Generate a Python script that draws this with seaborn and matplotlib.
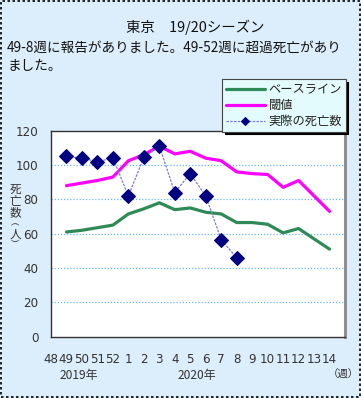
import matplotlib
matplotlib.use("Agg")
import matplotlib.pyplot as plt
import seaborn as sns
import pandas as pd
import numpy as np
from matplotlib.patches import Rectangle

# ---- data ----
week_labels = ["48", "49", "50", "51", "52", "1", "2", "3", "4", "5", "6", "7",
               "8", "9", "10", "11", "12", "13", "14"]
weeks = ["49", "50", "51", "52", "1", "2", "3", "4", "5", "6", "7", "8", "9",
         "10", "11", "12", "13", "14"]
baseline = [61, 62, 63.5, 65, 71.5, 74.5, 78, 74, 75, 72.5, 71.5, 66.5, 66.5,
            65.5, 60.5, 63, 57, 51]
threshold = [88, 89.5, 91, 93, 102.5, 106, 111, 106.5, 108, 104, 102.5, 96, 95,
             94.5, 87, 91, 82, 73]
actual = [105, 104, 102, 104, 82, 104.5, 111, 84, 95, 82, 56.5, 46]
series_names = ["ベースライン", "閾値", "実際の死亡数"]
yticks = [0, 20, 40, 60, 80, 100, 120]

JP = ["Noto Sans CJK JP", "DejaVu Sans"]

sns.set_theme(style="white")
plt.rcParams["font.family"] = JP

W, H = 361, 398
fig = plt.figure(figsize=(W / 100, H / 100), dpi=100)
bg = "#dcedfc"
fig.patch.set_facecolor(bg)

def fx(px):
    return px / W

def fy(py):
    return 1 - py / H

# dotted border
fig.add_artist(Rectangle((0.002, 0.002), 0.996, 0.996, transform=fig.transFigure,
                         fill=False, edgecolor="black", linestyle=(0, (1.5, 1.5)),
                         linewidth=1.2))

ax = fig.add_axes([fx(51), fy(336.7), fx(345) - fx(51), fy(130.7) - fy(336.7)])
ax.set_facecolor("white")

xpos = np.arange(len(weeks))
df_base = pd.DataFrame({"x": xpos, "y": baseline})
df_thr = pd.DataFrame({"x": xpos, "y": threshold})
df_act = pd.DataFrame({"x": xpos[:len(actual)], "y": actual})

sns.lineplot(data=df_base, x="x", y="y", ax=ax, color="#2e8b57", linewidth=2.3,
             label=series_names[0])
sns.lineplot(data=df_thr, x="x", y="y", ax=ax, color="#ff00ff", linewidth=2.3,
             label=series_names[1])
sns.lineplot(data=df_act, x="x", y="y", ax=ax, color="#7b7bd0", linewidth=0.9,
             linestyle=(0, (2, 1)), marker="D", markersize=7,
             markerfacecolor="#000080", markeredgecolor="#000080",
             label=series_names[2])

ax.set_xlim(-1, 18)
ax.set_ylim(0, 120)
ax.set_yticks(yticks)
ax.set_yticklabels([str(v) for v in yticks], fontsize=8.6, color="#333333",
                   family="DejaVu Sans")
ax.set_xticks(np.arange(-1, len(week_labels) - 1))
ax.set_xticklabels(week_labels, fontsize=8.6, color="#333333", family="DejaVu Sans")
ax.tick_params(axis="x", direction="in", length=3, pad=12, color="#555555", width=0.8)
ax.tick_params(axis="y", direction="in", length=3, pad=9, color="#555555", width=0.8)
ax.set_xlabel("")
ax.set_ylabel("")

for v in yticks[1:-1]:
    ax.axhline(v, color="#66b8ff", linestyle=(0, (1, 1.5)), linewidth=0.9, zorder=0)

for s in ["left", "bottom", "top"]:
    ax.spines[s].set_color("#333333")
    ax.spines[s].set_linewidth(1.0)
ax.spines["right"].set_color("#888888")
ax.spines["right"].set_linewidth(2.0)

# legend
handles, labels = ax.get_legend_handles_labels()
ax.get_legend().remove()
leg = fig.legend(handles, labels, loc="upper left", bbox_to_anchor=(fx(216), fy(73)),
                 fontsize=8.8, frameon=True, fancybox=False, handlelength=3.2,
                 borderpad=0.3, labelspacing=0.25, handletextpad=0.3,
                 markerscale=0.55,
                 shadow={"color": "black", "alpha": 1.0})
leg.get_frame().set_facecolor("#e4fbfd")
leg.get_frame().set_edgecolor("#444444")
leg.get_frame().set_linewidth(0.8)
for t in leg.get_texts():
    t.set_color("#222222")

# titles
fig.text(fx(195), fy(27), "東京　19/20シーズン", ha="center", va="center",
         fontsize=10.4, color="#111111")
fig.text(fx(7), fy(48), "49-8週に報告がありました。49-52週に超過死亡があり",
         ha="left", va="center", fontsize=9.8, color="#111111")
fig.text(fx(7), fy(66), "ました。", ha="left", va="center", fontsize=9.8,
         color="#111111")

# y label (vertical)
for ch, py, fs in zip(["死", "亡", "数", "︵", "人", "︶"],
                      [189, 201, 213, 223, 234, 245],
                      [8.4, 8.4, 8.4, 6.0, 8.4, 6.0]):
    fig.text(fx(15), fy(py), ch, ha="center", va="center", fontsize=fs,
             color="#333333")

# year / unit labels
fig.text(fx(79), fy(376), "2019年", ha="center", va="center", fontsize=8.6,
         color="#333333")
fig.text(fx(197), fy(376), "2020年", ha="center", va="center", fontsize=8.6,
         color="#333333")
fig.text(fx(343), fy(375), "（週）", ha="center", va="center", fontsize=7.5,
         color="#333333")

fig.savefig("out.png", dpi=100, facecolor=fig.get_facecolor())
